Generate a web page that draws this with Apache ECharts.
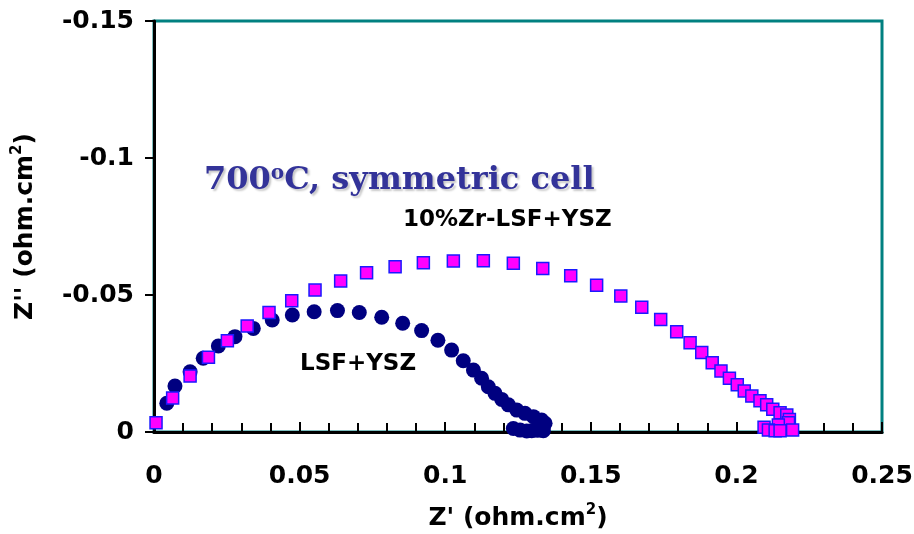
<!DOCTYPE html>
<html>
<head>
<meta charset="utf-8">
<script src="https://cdn.jsdelivr.net/npm/echarts@6/dist/echarts.min.js"></script>
<style>html,body{margin:0;padding:0;background:#fff;}#c{width:914px;height:534px;}</style>
</head>
<body>
<div id="c"></div>
<script>
// LSF+YSZ (circles): [Z', Z'']
const lsfYsz = [
  [0.0044,-0.0105],[0.0072,-0.0168],[0.0124,-0.0220],[0.0169,-0.0269],[0.0221,-0.0314],
  [0.0278,-0.0348],[0.0341,-0.0378],[0.0406,-0.0409],[0.0475,-0.0427],[0.0550,-0.0439],
  [0.0630,-0.0443],[0.0705,-0.0436],[0.0782,-0.0419],[0.0854,-0.0397],[0.0919,-0.0370],
  [0.0975,-0.0335],[0.1022,-0.0299],[0.1062,-0.0260],[0.1097,-0.0226],[0.1125,-0.0196],
  [0.1148,-0.0165],[0.1171,-0.0141],[0.1194,-0.0119],[0.1217,-0.0099],[0.1246,-0.0080],
  [0.1274,-0.0068],[0.1303,-0.0056],[0.1331,-0.0044],[0.1343,-0.0032],[0.1337,-0.0019],
  [0.1337,-0.0005],[0.1317,-0.0006],[0.1297,-0.0005],[0.1280,-0.0004],[0.1257,-0.0007],
  [0.1234,-0.0013]
];
// 10%Zr-LSF+YSZ (squares): [Z', Z'']
const zrLsfYsz = [
  [0.0007,-0.0034],[0.0064,-0.0124],[0.0124,-0.0204],[0.0187,-0.0273],[0.0252,-0.0333],
  [0.0320,-0.0387],[0.0395,-0.0436],[0.0473,-0.0479],[0.0553,-0.0518],[0.0641,-0.0551],
  [0.0730,-0.0581],[0.0828,-0.0603],[0.0925,-0.0618],[0.1028,-0.0624],[0.1131,-0.0625],
  [0.1234,-0.0616],[0.1335,-0.0597],[0.1431,-0.0570],[0.1520,-0.0536],[0.1603,-0.0496],
  [0.1675,-0.0455],[0.1740,-0.0411],[0.1795,-0.0366],[0.1841,-0.0326],[0.1881,-0.0290],
  [0.1917,-0.0253],[0.1947,-0.0223],[0.1976,-0.0196],[0.2003,-0.0172],[0.2027,-0.0150],
  [0.2053,-0.0131],[0.2081,-0.0114],[0.2104,-0.0099],[0.2125,-0.0083],[0.2150,-0.0070],
  [0.2173,-0.0062],[0.2182,-0.0046],[0.2179,-0.0034],[0.2144,-0.0026],[0.2095,-0.0017],
  [0.2110,-0.0007],[0.2133,-0.0005],[0.2150,-0.0005],[0.2193,-0.0007]
];
const xAxisRange = [0, 0.25], xStep = 0.05;
const yAxisRange = [-0.15, 0], yStep = 0.05;
const titleText = '700|o|C, symmetric cell';
const labelZr = '10%Zr-LSF+YSZ';
const labelLsf = 'LSF+YSZ';

const SANS = 'DejaVu Sans';
const chart = echarts.init(document.getElementById('c'));
const tp = titleText.split('|');
const shadow = { textShadowColor: 'rgba(0,0,0,0.22)', textShadowOffsetX: 2, textShadowOffsetY: 2, textShadowBlur: 2 };
chart.setOption({
  animation: false,
  backgroundColor: '#fff',
  grid: { left: 154, right: 32, top: 21, bottom: 102, show: true, borderColor: '#008080', borderWidth: 3,
          backgroundColor: 'transparent', containLabel: false, outerBoundsMode: 'none' },
  xAxis: {
    type: 'value', min: xAxisRange[0], max: xAxisRange[1], interval: xStep,
    name: "{a|Z' (ohm.cm}{s|2}{a|)}", nameLocation: 'middle', nameGap: 71,
    nameTextStyle: { rich: {
      a: { fontFamily: SANS, fontWeight: 'bold', fontSize: 25, color: '#000', lineHeight: 30 },
      s: { fontFamily: SANS, fontWeight: 'bold', fontSize: 15, color: '#000', lineHeight: 30, verticalAlign: 'top' }
    } },
    axisLine: { show: true, lineStyle: { color: '#000', width: 3 } },
    axisTick: { show: true, inside: true, length: 10, lineStyle: { color: '#000', width: 2 } },
    minorTick: { show: true, splitNumber: 5, length: 9, lineStyle: { color: '#000', width: 2 } },
    splitLine: { show: false }, minorSplitLine: { show: false },
    axisLabel: { margin: 32, fontFamily: SANS, fontWeight: 'bold', fontSize: 25, color: '#000' }
  },
  yAxis: {
    type: 'value', min: yAxisRange[0], max: yAxisRange[1], interval: yStep, inverse: true,
    name: "{a|Z'' (ohm.cm}{s|2}{a|)}", nameLocation: 'middle', nameGap: 114, nameRotate: 90,
    nameTextStyle: { rich: {
      a: { fontFamily: SANS, fontWeight: 'bold', fontSize: 25, color: '#000', lineHeight: 30 },
      s: { fontFamily: SANS, fontWeight: 'bold', fontSize: 15, color: '#000', lineHeight: 30, verticalAlign: 'top' }
    } },
    axisLine: { show: true, lineStyle: { color: '#000', width: 3 } },
    axisTick: { show: true, inside: false, length: 9, lineStyle: { color: '#000', width: 2 } },
    splitLine: { show: false },
    axisLabel: { margin: 20, fontFamily: SANS, fontWeight: 'bold', fontSize: 25, color: '#000' }
  },
  series: [
    { name: labelLsf, type: 'scatter', data: lsfYsz, symbol: 'circle', symbolSize: 15, clip: false,
      itemStyle: { color: '#000080', opacity: 1 } },
    { name: labelZr, type: 'scatter', data: zrLsfYsz, symbol: 'rect', symbolSize: 12, clip: false,
      itemStyle: { color: '#FF00FF', borderColor: '#1a1aff', borderWidth: 1.5, opacity: 1 } }
  ],
  graphic: [
    { type: 'text', x: 204, y: 181, z: 100, style: {
      text: '{a|' + tp[0] + '}{s|' + tp[1] + '}{a|' + tp[2] + '}', verticalAlign: 'middle', align: 'left',
      rich: {
        a: Object.assign({ fontFamily: 'DejaVu Serif', fontWeight: 'bold', fontSize: 32, fill: '#333399', lineHeight: 38 }, shadow),
        s: Object.assign({ fontFamily: 'DejaVu Serif', fontWeight: 'bold', fontSize: 20, fill: '#333399', lineHeight: 38, verticalAlign: 'top',
             padding: [2,0,0,0] }, shadow)
      } } },
    { type: 'text', x: 403, y: 220, z: 100, style: { text: labelZr, verticalAlign: 'middle', align: 'left',
      fontFamily: SANS, fontWeight: 'bold', fontSize: 23, fill: '#000' } },
    { type: 'text', x: 300, y: 364, z: 100, style: { text: labelLsf, verticalAlign: 'middle', align: 'left',
      fontFamily: SANS, fontWeight: 'bold', fontSize: 23, fill: '#000' } }
  ]
});
</script>
</body>
</html>
